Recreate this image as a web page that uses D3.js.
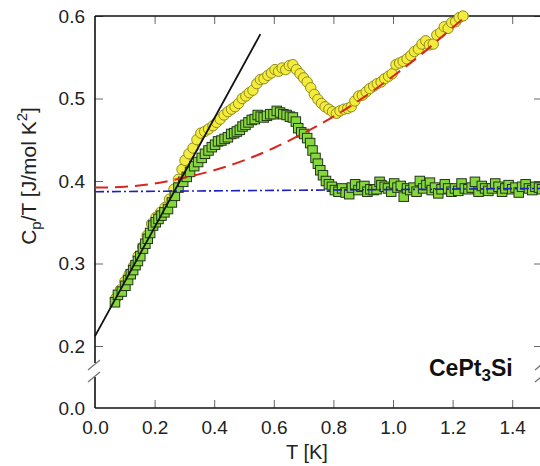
<!DOCTYPE html>
<html>
<head>
<meta charset="utf-8">
<script src="https://cdn.jsdelivr.net/npm/d3@7"></script>
<style>
  body { margin: 0; background: #fff; }
  svg { display: block; font-family: "Liberation Sans", Arial, sans-serif; }
  .tick line { stroke: #666; stroke-width: 1; }
  .tick text { font-size: 19px; fill: #222; }
</style>
</head>
<body>
<div id="chart"></div>
<script>
var svgWidth = 540;
var svgHeight = 466;

// yellow circles (T [K], Cp/T)
var yellowT = [0.070, 0.085, 0.100, 0.115, 0.130, 0.145, 0.160, 0.175, 0.190, 0.205, 0.220, 0.235, 0.250, 0.265, 0.280, 0.292,
  0.302, 0.315, 0.329, 0.342, 0.355, 0.368, 0.381, 0.396, 0.408, 0.420, 0.433, 0.446, 0.458, 0.470, 0.482, 0.494,
  0.506, 0.518, 0.530, 0.543, 0.555, 0.567, 0.580, 0.592, 0.604, 0.616, 0.628, 0.640, 0.652, 0.664, 0.676, 0.688,
  0.700, 0.712, 0.724, 0.736, 0.748, 0.760, 0.772, 0.785, 0.797, 0.810, 0.822, 0.835, 0.848, 0.860, 0.872, 0.885,
  0.897, 0.910, 0.922, 0.935, 0.947, 0.960, 0.972, 0.985, 0.997, 1.010, 1.022, 1.034, 1.047, 1.060, 1.072, 1.085,
  1.097, 1.110, 1.122, 1.135, 1.147, 1.160, 1.172, 1.185, 1.197, 1.210, 1.222, 1.235];
var yellowC = [0.258, 0.268, 0.278, 0.287, 0.297, 0.309, 0.320, 0.334, 0.348, 0.356, 0.362, 0.368, 0.378, 0.390, 0.402, 0.414,
  0.425, 0.433, 0.440, 0.450, 0.458, 0.460, 0.463, 0.467, 0.471, 0.475, 0.480, 0.484, 0.487, 0.490, 0.494, 0.500,
  0.503, 0.507, 0.510, 0.518, 0.523, 0.524, 0.528, 0.531, 0.535, 0.533, 0.537, 0.535, 0.540, 0.541, 0.535, 0.530,
  0.525, 0.520, 0.513, 0.505, 0.499, 0.494, 0.490, 0.487, 0.484, 0.482, 0.485, 0.487, 0.488, 0.490, 0.497, 0.503,
  0.504, 0.508, 0.512, 0.515, 0.518, 0.520, 0.524, 0.527, 0.530, 0.541, 0.543, 0.545, 0.548, 0.552, 0.557, 0.560,
  0.566, 0.570, 0.565, 0.566, 0.577, 0.580, 0.587, 0.585, 0.592, 0.593, 0.598, 0.600];

// green squares (T [K], Cp/T)
var greenT = [0.067, 0.077, 0.090, 0.102, 0.111, 0.120, 0.128, 0.136, 0.144, 0.152, 0.161, 0.169, 0.177, 0.185, 0.195, 0.204,
  0.213, 0.223, 0.233, 0.245, 0.258, 0.268, 0.280, 0.296, 0.308, 0.319, 0.333, 0.346, 0.358, 0.369, 0.381, 0.392,
  0.403, 0.413, 0.424, 0.435, 0.446, 0.457, 0.467, 0.476, 0.486, 0.495, 0.505, 0.515, 0.526, 0.536, 0.546, 0.556,
  0.566, 0.577, 0.588, 0.599, 0.610, 0.621, 0.632, 0.643, 0.654, 0.664, 0.674, 0.682, 0.692, 0.702, 0.712, 0.722,
  0.730, 0.740, 0.748, 0.756, 0.765, 0.775, 0.785, 0.795,
  0.805, 0.817, 0.829, 0.841, 0.853, 0.862, 0.873, 0.884, 0.894, 0.904, 0.914, 0.924, 0.935, 0.945, 0.955, 0.961,
  0.972, 0.983, 0.994, 1.004, 1.015, 1.026, 1.036, 1.047, 1.058, 1.069, 1.079, 1.090, 1.101, 1.112, 1.124, 1.130,
  1.141, 1.152, 1.163, 1.174, 1.185, 1.196, 1.208, 1.219, 1.230, 1.241, 1.253, 1.264, 1.275, 1.287, 1.298, 1.309,
  1.320, 1.332, 1.343, 1.354, 1.366, 1.377, 1.388, 1.400, 1.411, 1.422, 1.433, 1.445, 1.456, 1.467, 1.478, 1.490, 1.500];
var greenC = [0.253, 0.262, 0.266, 0.273, 0.280, 0.287, 0.292, 0.298, 0.303, 0.309, 0.318, 0.324, 0.330, 0.337, 0.346, 0.350,
  0.354, 0.358, 0.362, 0.366, 0.374, 0.382, 0.392, 0.399, 0.405, 0.411, 0.418, 0.423, 0.428, 0.433, 0.437, 0.441,
  0.444, 0.448, 0.449, 0.451, 0.453, 0.457, 0.458, 0.460, 0.462, 0.466, 0.468, 0.471, 0.474, 0.475, 0.480, 0.478,
  0.477, 0.479, 0.481, 0.481, 0.485, 0.483, 0.481, 0.480, 0.478, 0.477, 0.472, 0.464, 0.459, 0.457, 0.452, 0.446,
  0.437, 0.428, 0.421, 0.413, 0.407, 0.400, 0.396, 0.393,
  0.389, 0.387, 0.391, 0.386, 0.384, 0.392, 0.396, 0.389, 0.393, 0.394, 0.387, 0.390, 0.389, 0.390, 0.399, 0.395,
  0.393, 0.391, 0.387, 0.397, 0.392, 0.394, 0.381, 0.391, 0.389, 0.392, 0.387, 0.400, 0.391, 0.395, 0.398, 0.389,
  0.392, 0.385, 0.390, 0.396, 0.391, 0.387, 0.391, 0.388, 0.397, 0.391, 0.390, 0.392, 0.399, 0.387, 0.394, 0.391,
  0.388, 0.391, 0.397, 0.393, 0.387, 0.391, 0.395, 0.390, 0.392, 0.386, 0.393, 0.396, 0.391, 0.389, 0.393, 0.392, 0.390];

// fitted curves
var linearT = [0.0, 0.555];
var linearC = [0.212, 0.578];
var redT = [0.0, 0.1, 0.2, 0.3, 0.4, 0.5, 0.6, 0.7, 0.8, 0.9, 1.0, 1.1, 1.2, 1.24];
var redC = [0.392, 0.393, 0.397, 0.404, 0.413, 0.425, 0.440, 0.458, 0.478, 0.501, 0.527, 0.555, 0.586, 0.598];
var blueT = [0.0, 1.5];
var blueC = [0.387, 0.391];

var xTicks = [0.0, 0.2, 0.4, 0.6, 0.8, 1.0, 1.2, 1.4];
var yTicks = [0.0, 0.2, 0.3, 0.4, 0.5, 0.6];

var svg = d3.select("#chart")
  .append("svg")
  .attr("width", svgWidth)
  .attr("height", svgHeight);

var plotLeft = 95, plotRight = 542, plotTop = 16, plotBottom = 408;

var xScale = d3.scaleLinear().domain([0, 1.5]).range([plotLeft, plotRight]);
// broken axis: 0.0 .. 0.2 squeezed at the bottom
var yScale = d3.scaleLinear().domain([0, 0.2, 0.6]).range([plotBottom, 346, plotTop]);

// axes
var bottomAxis = d3.axisBottom(xScale).tickValues(xTicks).tickFormat(d3.format(".1f"))
  .tickSizeInner(-8).tickSizeOuter(0).tickPadding(13);
var topAxis = d3.axisTop(xScale).tickValues(xTicks.slice(1)).tickFormat("").tickSizeInner(-8).tickSizeOuter(0);
var leftAxis = d3.axisLeft(yScale).tickValues(yTicks).tickFormat(d3.format(".1f"))
  .tickSizeInner(-8).tickSizeOuter(0).tickPadding(10);
var rightAxis = d3.axisRight(yScale).tickValues(yTicks.slice(1)).tickFormat("").tickSizeInner(-8).tickSizeOuter(0);

var gB = svg.append("g").attr("transform", `translate(0, ${plotBottom})`).call(bottomAxis);
var gT = svg.append("g").attr("transform", `translate(0, ${plotTop})`).call(topAxis);
var gL = svg.append("g").attr("transform", `translate(${plotLeft}, 0)`).call(leftAxis);
var gR = svg.append("g").attr("transform", `translate(${plotRight}, 0)`).call(rightAxis);
[gB, gT, gL, gR].forEach(function(g) { g.select(".domain").remove(); });
gB.selectAll(".tick").filter(d => d === 0).select("line").remove();
gL.selectAll(".tick").filter(d => d === 0).select("line").remove();

// frame, with gaps for the axis break
var frame = svg.append("g").attr("stroke", "#111").attr("stroke-width", 1.6).attr("fill", "none");
frame.append("path").attr("d", `M${plotLeft},${plotBottom}H${plotRight}`);
frame.append("path").attr("d", `M${plotLeft},${plotTop}H${plotRight}`);
frame.append("path").attr("d", `M${plotLeft},${plotTop}V363M${plotLeft},377V${plotBottom}`);
frame.append("path").attr("d", `M${plotRight},${plotTop}V363M${plotRight},377V${plotBottom}`);

// break marks
var brk = svg.append("g").attr("stroke", "#777").attr("stroke-width", 1.3);
[plotLeft, plotRight].forEach(function(x) {
  brk.append("line").attr("x1", x - 7).attr("y1", 370).attr("x2", x + 5).attr("y2", 360);
  brk.append("line").attr("x1", x - 7).attr("y1", 382).attr("x2", x + 5).attr("y2", 372);
});

// data
var yellow = yellowT.map((t, i) => ({ t: t, c: yellowC[i] }));
var green = greenT.map((t, i) => ({ t: t, c: greenC[i] }));

svg.append("g").selectAll("circle")
  .data(yellow)
  .enter()
  .append("circle")
  .attr("cx", d => xScale(d.t))
  .attr("cy", d => yScale(d.c))
  .attr("r", 5.2)
  .attr("fill", "#f4ec3a")
  .attr("stroke", "#8f8a1e")
  .attr("stroke-width", 1);

var sq = 9.5;
svg.append("g").selectAll("rect")
  .data(green)
  .enter()
  .append("rect")
  .attr("x", d => xScale(d.t) - sq / 2)
  .attr("y", d => yScale(d.c) - sq / 2)
  .attr("width", sq)
  .attr("height", sq)
  .attr("fill", "#86d83a")
  .attr("stroke", "#22361a")
  .attr("stroke-width", 1);

// fit lines on top of the markers
var line = d3.line().x(d => xScale(d[0])).y(d => yScale(d[1])).curve(d3.curveMonotoneX);

svg.append("path")
  .datum(blueT.map((t, i) => [t, blueC[i]]))
  .attr("d", line)
  .attr("fill", "none")
  .attr("stroke", "#1f1fc4")
  .attr("stroke-width", 1.6)
  .attr("stroke-dasharray", "9,3,2,3");

svg.append("path")
  .datum(redT.map((t, i) => [t, redC[i]]))
  .attr("d", line)
  .attr("fill", "none")
  .attr("stroke", "#d8261c")
  .attr("stroke-width", 2)
  .attr("stroke-dasharray", "13,7");

svg.append("path")
  .datum(linearT.map((t, i) => [t, linearC[i]]))
  .attr("d", line)
  .attr("fill", "none")
  .attr("stroke", "#111")
  .attr("stroke-width", 1.8);

// labels
svg.append("text")
  .attr("x", 307)
  .attr("y", 459)
  .attr("text-anchor", "middle")
  .attr("font-size", "20px")
  .attr("fill", "#222")
  .text("T [K]");

var yl = svg.append("text")
  .attr("transform", "translate(36, 176) rotate(-90)")
  .attr("text-anchor", "middle")
  .attr("font-size", "21px")
  .attr("fill", "#222");
yl.append("tspan").text("C");
yl.append("tspan").attr("font-size", "15px").attr("dy", 5).text("p");
yl.append("tspan").attr("dy", -5).text("/T [J/mol K");
yl.append("tspan").attr("font-size", "15px").attr("dy", -9).text("2");
yl.append("tspan").attr("dy", 9).text("]");

var lab = svg.append("text")
  .attr("x", 429)
  .attr("y", 376)
  .attr("font-size", "23px")
  .attr("font-weight", "bold")
  .attr("fill", "#111");
lab.append("tspan").text("CePt");
lab.append("tspan").attr("font-size", "17px").attr("dy", 5).text("3");
lab.append("tspan").attr("dy", -5).text("Si");
</script>
</body>
</html>
